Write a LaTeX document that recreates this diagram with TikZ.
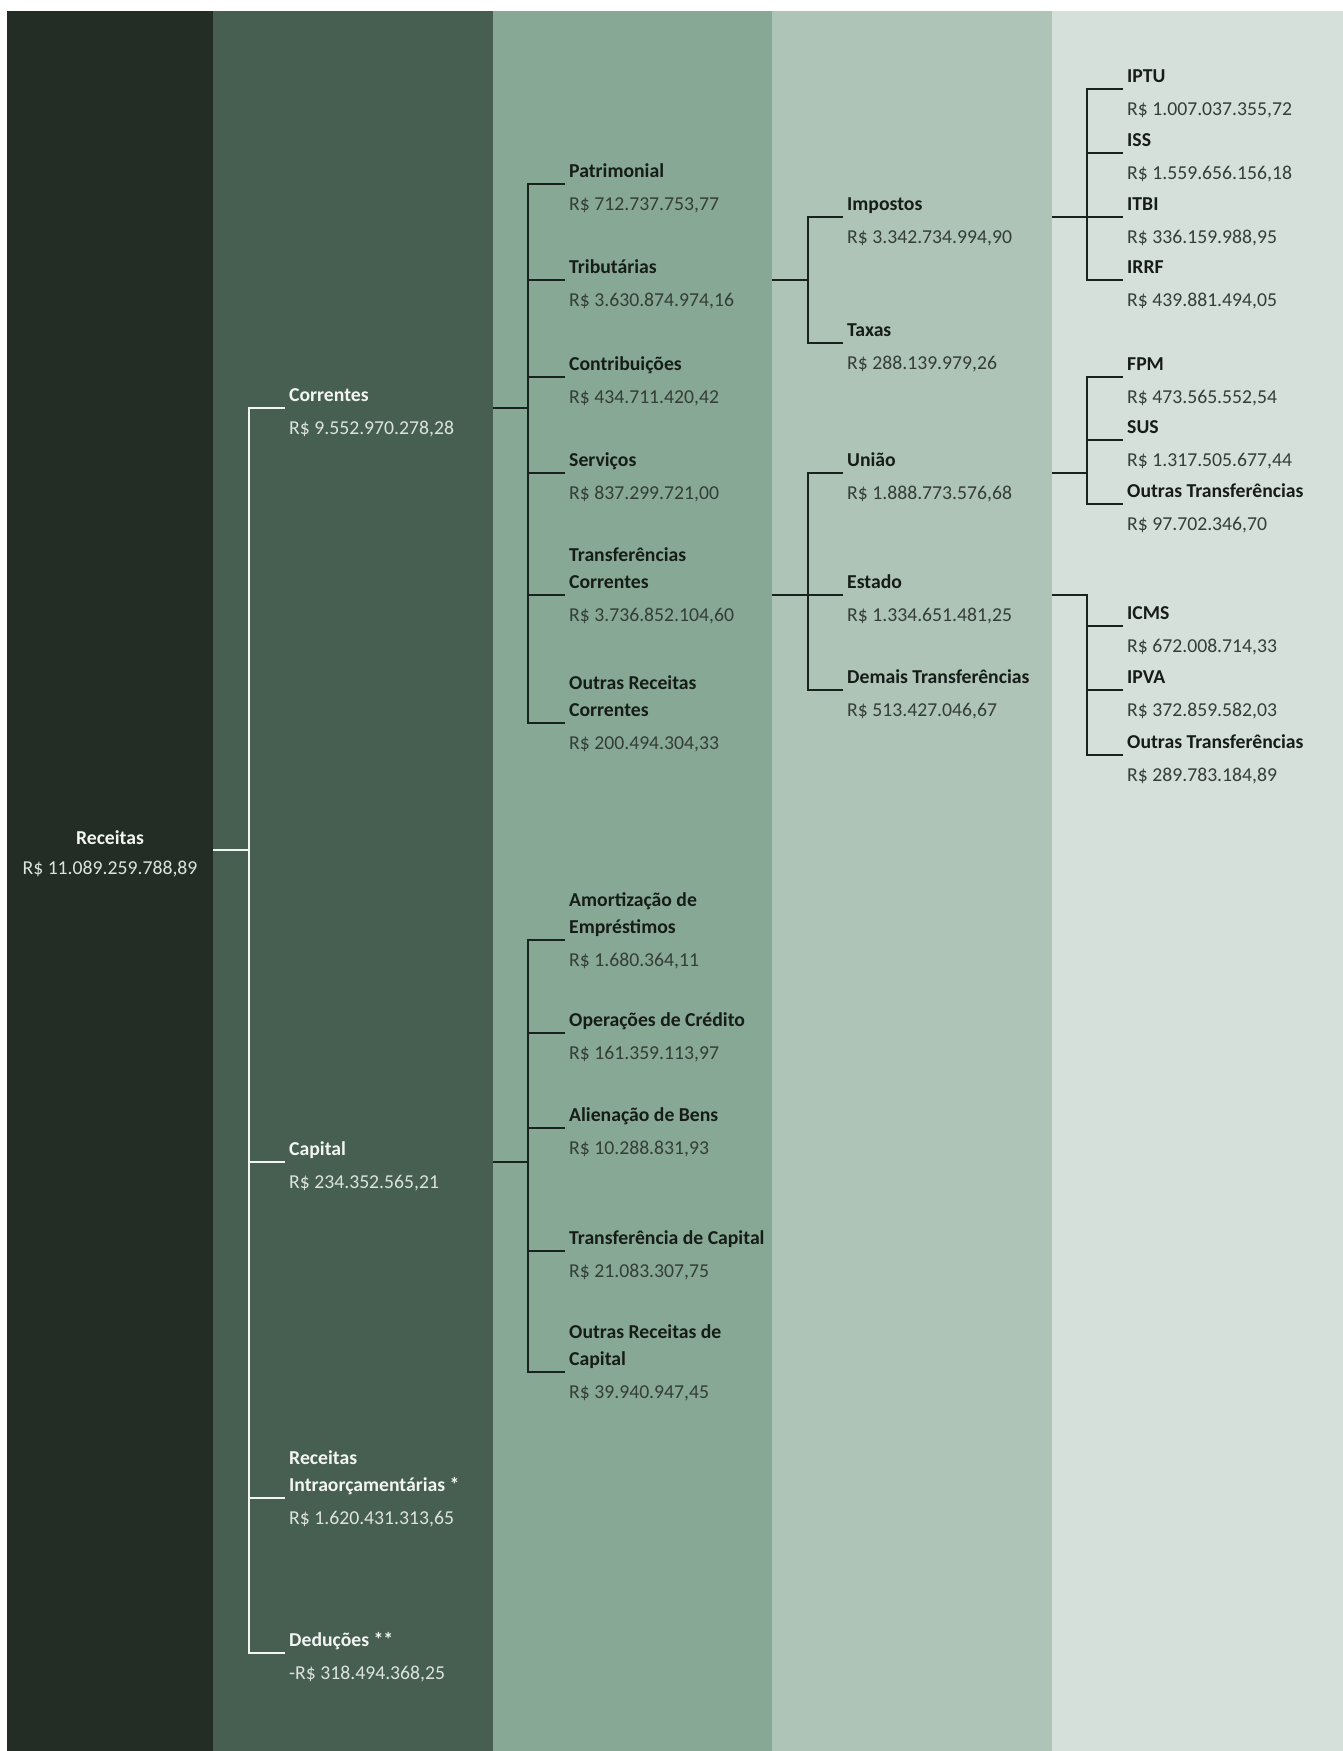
\documentclass[tikz,border=0pt]{standalone}
\usepackage{fontspec}
\setmainfont{Carlito}

\definecolor{bandA}{HTML}{232D26}
\definecolor{bandB}{HTML}{465F50}
\definecolor{bandC}{HTML}{87A895}
\definecolor{bandD}{HTML}{AEC4B7}
\definecolor{bandE}{HTML}{D6E0DA}
\definecolor{inkblack}{HTML}{161C18}
\definecolor{inkgrey}{HTML}{343D37}
\definecolor{inkwhite}{HTML}{F3F5F3}
\definecolor{inkpale}{HTML}{DDE3DF}
\definecolor{linkdark}{HTML}{19221C}

\tikzset{
  branch/.style   = {anchor=south west, inner sep=0pt, align=left, text depth=0pt,
                     font=\fontsize{19.7}{27.5}\selectfont\bfseries},
  amount/.style   = {anchor=base west, inner sep=0pt,
                     font=\fontsize{19.7}{27.5}\selectfont},
  whitetxt/.style = {text=inkwhite},
  paletxt/.style  = {text=inkpale},
  blacktxt/.style = {text=inkblack},
  greytxt/.style  = {text=inkgrey},
  wlink/.style    = {draw=inkwhite, line width=2.6pt},
  klink/.style    = {draw=linkdark, line width=2.6pt}
}

\begin{document}
\begin{tikzpicture}[x=1pt, y=-1pt]
\useasboundingbox (0,0) rectangle (1343,1751);
\fill[white] (0,0) rectangle (1343,1751);

% bands
\fill[bandA] (7,11) rectangle (213,1751);
\fill[bandB] (213,11) rectangle (493,1751);
\fill[bandC] (493,11) rectangle (772,1751);
\fill[bandD] (772,11) rectangle (1052,1751);
\fill[bandE] (1052,11) rectangle (1343,1751);

% root
\node[branch, whitetxt, anchor=base] (rec) at (110,844) {Receitas};
\node[amount, paletxt, anchor=base] (recv) at (110,874) {R\$ 11.089.259.788,89};

% level 2
\coordinate (t-corr)  at (285,408);
\coordinate (t-cap)   at (285,1162);
\coordinate (t-intra) at (285,1498);
\coordinate (t-ded)   at (285,1653);

\node[branch, whitetxt] (corr) at ([shift={(4,-6)}]t-corr) {Correntes};
\node[amount, paletxt] (corrv) at ([shift={(4,26)}]t-corr) {R\$ 9.552.970.278,28};
\node[branch, whitetxt] (cap) at ([shift={(4,-6)}]t-cap) {Capital};
\node[amount, paletxt] (capv) at ([shift={(4,26)}]t-cap) {R\$ 234.352.565,21};
\node[branch, whitetxt] (intra) at ([shift={(4,-6)}]t-intra) {Receitas\\Intraorçamentárias *};
\node[amount, paletxt] (intrav) at ([shift={(4,26)}]t-intra) {R\$ 1.620.431.313,65};
\node[branch, whitetxt] (ded) at ([shift={(4,-6)}]t-ded) {Deduções **};
\node[amount, paletxt] (dedv) at ([shift={(4,26)}]t-ded) {-R\$ 318.494.368,25};

\coordinate (rec-out) at (213,850);
\coordinate (bus2) at (249,850);
\draw[wlink] (rec-out) -- (bus2);
\draw[wlink] (t-corr) -- (t-corr -| bus2) -- (t-ded -| bus2) -- (t-ded);
\draw[wlink] (t-cap -| bus2) -- (t-cap);
\draw[wlink] (t-intra -| bus2) -- (t-intra);

% level 3, correntes
\coordinate (t-patr)  at (565,184);
\coordinate (t-trib)  at (565,280);
\coordinate (t-contr) at (565,377);
\coordinate (t-serv)  at (565,473);
\coordinate (t-tcorr) at (565,595);
\coordinate (t-orc)   at (565,723);

\node[branch, blacktxt] (patr) at ([shift={(4,-6)}]t-patr) {Patrimonial};
\node[amount, greytxt] (patrv) at ([shift={(4,26)}]t-patr) {R\$ 712.737.753,77};
\node[branch, blacktxt] (trib) at ([shift={(4,-6)}]t-trib) {Tributárias};
\node[amount, greytxt] (tribv) at ([shift={(4,26)}]t-trib) {R\$ 3.630.874.974,16};
\node[branch, blacktxt] (contr) at ([shift={(4,-6)}]t-contr) {Contribuições};
\node[amount, greytxt] (contrv) at ([shift={(4,26)}]t-contr) {R\$ 434.711.420,42};
\node[branch, blacktxt] (serv) at ([shift={(4,-6)}]t-serv) {Serviços};
\node[amount, greytxt] (servv) at ([shift={(4,26)}]t-serv) {R\$ 837.299.721,00};
\node[branch, blacktxt] (tcorr) at ([shift={(4,-6)}]t-tcorr) {Transferências\\Correntes};
\node[amount, greytxt] (tcorrv) at ([shift={(4,26)}]t-tcorr) {R\$ 3.736.852.104,60};
\node[branch, blacktxt] (orc) at ([shift={(4,-6)}]t-orc) {Outras Receitas\\Correntes};
\node[amount, greytxt] (orcv) at ([shift={(4,26)}]t-orc) {R\$ 200.494.304,33};

\coordinate (corr-out) at (493,408);
\coordinate (bus3a) at (528,408);
\draw[klink] (corr-out) -- (bus3a);
\draw[klink] (t-patr) -- (t-patr -| bus3a) -- (t-orc -| bus3a) -- (t-orc);
\draw[klink] (t-trib -| bus3a) -- (t-trib);
\draw[klink] (t-contr -| bus3a) -- (t-contr);
\draw[klink] (t-serv -| bus3a) -- (t-serv);
\draw[klink] (t-tcorr -| bus3a) -- (t-tcorr);

% level 3, capital
\coordinate (t-amort) at (565,940);
\coordinate (t-oper)  at (565,1033);
\coordinate (t-alien) at (565,1128);
\coordinate (t-tcap)  at (565,1251);
\coordinate (t-orcap) at (565,1372);

\node[branch, blacktxt] (amort) at ([shift={(4,-6)}]t-amort) {Amortização de\\Empréstimos};
\node[amount, greytxt] (amortv) at ([shift={(4,26)}]t-amort) {R\$ 1.680.364,11};
\node[branch, blacktxt] (oper) at ([shift={(4,-6)}]t-oper) {Operações de Crédito};
\node[amount, greytxt] (operv) at ([shift={(4,26)}]t-oper) {R\$ 161.359.113,97};
\node[branch, blacktxt] (alien) at ([shift={(4,-6)}]t-alien) {Alienação de Bens};
\node[amount, greytxt] (alienv) at ([shift={(4,26)}]t-alien) {R\$ 10.288.831,93};
\node[branch, blacktxt] (tcap) at ([shift={(4,-6)}]t-tcap) {Transferência de Capital};
\node[amount, greytxt] (tcapv) at ([shift={(4,26)}]t-tcap) {R\$ 21.083.307,75};
\node[branch, blacktxt] (orcap) at ([shift={(4,-6)}]t-orcap) {Outras Receitas de\\Capital};
\node[amount, greytxt] (orcapv) at ([shift={(4,26)}]t-orcap) {R\$ 39.940.947,45};

\coordinate (cap-out) at (493,1162);
\coordinate (bus3b) at (528,1162);
\draw[klink] (cap-out) -- (bus3b);
\draw[klink] (t-amort) -- (t-amort -| bus3b) -- (t-orcap -| bus3b) -- (t-orcap);
\draw[klink] (t-oper -| bus3b) -- (t-oper);
\draw[klink] (t-alien -| bus3b) -- (t-alien);
\draw[klink] (t-tcap -| bus3b) -- (t-tcap);

% level 4
\coordinate (t-imp)    at (843,217);
\coordinate (t-tax)    at (843,343);
\coordinate (t-uniao)  at (843,473);
\coordinate (t-estado) at (843,595);
\coordinate (t-demais) at (843,690);

\node[branch, blacktxt] (imp) at ([shift={(4,-6)}]t-imp) {Impostos};
\node[amount, greytxt] (impv) at ([shift={(4,26)}]t-imp) {R\$ 3.342.734.994,90};
\node[branch, blacktxt] (tax) at ([shift={(4,-6)}]t-tax) {Taxas};
\node[amount, greytxt] (taxv) at ([shift={(4,26)}]t-tax) {R\$ 288.139.979,26};
\node[branch, blacktxt] (uniao) at ([shift={(4,-6)}]t-uniao) {União};
\node[amount, greytxt] (uniaov) at ([shift={(4,26)}]t-uniao) {R\$ 1.888.773.576,68};
\node[branch, blacktxt] (estado) at ([shift={(4,-6)}]t-estado) {Estado};
\node[amount, greytxt] (estadov) at ([shift={(4,26)}]t-estado) {R\$ 1.334.651.481,25};
\node[branch, blacktxt] (demais) at ([shift={(4,-6)}]t-demais) {Demais Transferências};
\node[amount, greytxt] (demaisv) at ([shift={(4,26)}]t-demais) {R\$ 513.427.046,67};

\coordinate (trib-out) at (772,280);
\coordinate (bus4a) at (808,280);
\draw[klink] (trib-out) -- (bus4a);
\draw[klink] (t-imp) -- (t-imp -| bus4a) -- (t-tax -| bus4a) -- (t-tax);

\coordinate (tcorr-out) at (772,595);
\coordinate (bus4b) at (808,595);
\draw[klink] (tcorr-out) -- (bus4b);
\draw[klink] (t-uniao) -- (t-uniao -| bus4b) -- (t-demais -| bus4b) -- (t-demais);
\draw[klink] (bus4b) -- (t-estado);

% level 5
\coordinate (t-iptu) at (1123,89);
\coordinate (t-iss)  at (1123,153);
\coordinate (t-itbi) at (1123,217);
\coordinate (t-irrf) at (1123,280);
\coordinate (t-fpm)  at (1123,377);
\coordinate (t-sus)  at (1123,440);
\coordinate (t-outu) at (1123,504);
\coordinate (t-icms) at (1123,626);
\coordinate (t-ipva) at (1123,690);
\coordinate (t-oute) at (1123,755);

\node[branch, blacktxt] (iptu) at ([shift={(4,-6)}]t-iptu) {IPTU};
\node[amount, greytxt] (iptuv) at ([shift={(4,26)}]t-iptu) {R\$ 1.007.037.355,72};
\node[branch, blacktxt] (iss) at ([shift={(4,-6)}]t-iss) {ISS};
\node[amount, greytxt] (issv) at ([shift={(4,26)}]t-iss) {R\$ 1.559.656.156,18};
\node[branch, blacktxt] (itbi) at ([shift={(4,-6)}]t-itbi) {ITBI};
\node[amount, greytxt] (itbiv) at ([shift={(4,26)}]t-itbi) {R\$ 336.159.988,95};
\node[branch, blacktxt] (irrf) at ([shift={(4,-6)}]t-irrf) {IRRF};
\node[amount, greytxt] (irrfv) at ([shift={(4,26)}]t-irrf) {R\$ 439.881.494,05};
\node[branch, blacktxt] (fpm) at ([shift={(4,-6)}]t-fpm) {FPM};
\node[amount, greytxt] (fpmv) at ([shift={(4,26)}]t-fpm) {R\$ 473.565.552,54};
\node[branch, blacktxt] (sus) at ([shift={(4,-6)}]t-sus) {SUS};
\node[amount, greytxt] (susv) at ([shift={(4,26)}]t-sus) {R\$ 1.317.505.677,44};
\node[branch, blacktxt] (outu) at ([shift={(4,-6)}]t-outu) {Outras Transferências};
\node[amount, greytxt] (outuv) at ([shift={(4,26)}]t-outu) {R\$ 97.702.346,70};
\node[branch, blacktxt] (icms) at ([shift={(4,-6)}]t-icms) {ICMS};
\node[amount, greytxt] (icmsv) at ([shift={(4,26)}]t-icms) {R\$ 672.008.714,33};
\node[branch, blacktxt] (ipva) at ([shift={(4,-6)}]t-ipva) {IPVA};
\node[amount, greytxt] (ipvav) at ([shift={(4,26)}]t-ipva) {R\$ 372.859.582,03};
\node[branch, blacktxt] (oute) at ([shift={(4,-6)}]t-oute) {Outras Transferências};
\node[amount, greytxt] (outev) at ([shift={(4,26)}]t-oute) {R\$ 289.783.184,89};

\coordinate (imp-out) at (1052,217);
\coordinate (bus5a) at (1087,217);
\draw[klink] (imp-out) -- (bus5a);
\draw[klink] (t-iptu) -- (t-iptu -| bus5a) -- (t-irrf -| bus5a) -- (t-irrf);
\draw[klink] (t-iss -| bus5a) -- (t-iss);
\draw[klink] (bus5a) -- (t-itbi);

\coordinate (uniao-out) at (1052,473);
\coordinate (bus5b) at (1087,473);
\draw[klink] (uniao-out) -- (bus5b);
\draw[klink] (t-fpm) -- (t-fpm -| bus5b) -- (t-outu -| bus5b) -- (t-outu);
\draw[klink] (t-sus -| bus5b) -- (t-sus);

\coordinate (estado-out) at (1052,595);
\coordinate (bus5c) at (1087,595);
\draw[klink] (estado-out) -- (bus5c) -- (t-oute -| bus5c) -- (t-oute);
\draw[klink] (t-icms -| bus5c) -- (t-icms);
\draw[klink] (t-ipva -| bus5c) -- (t-ipva);
\end{tikzpicture}
\end{document}
